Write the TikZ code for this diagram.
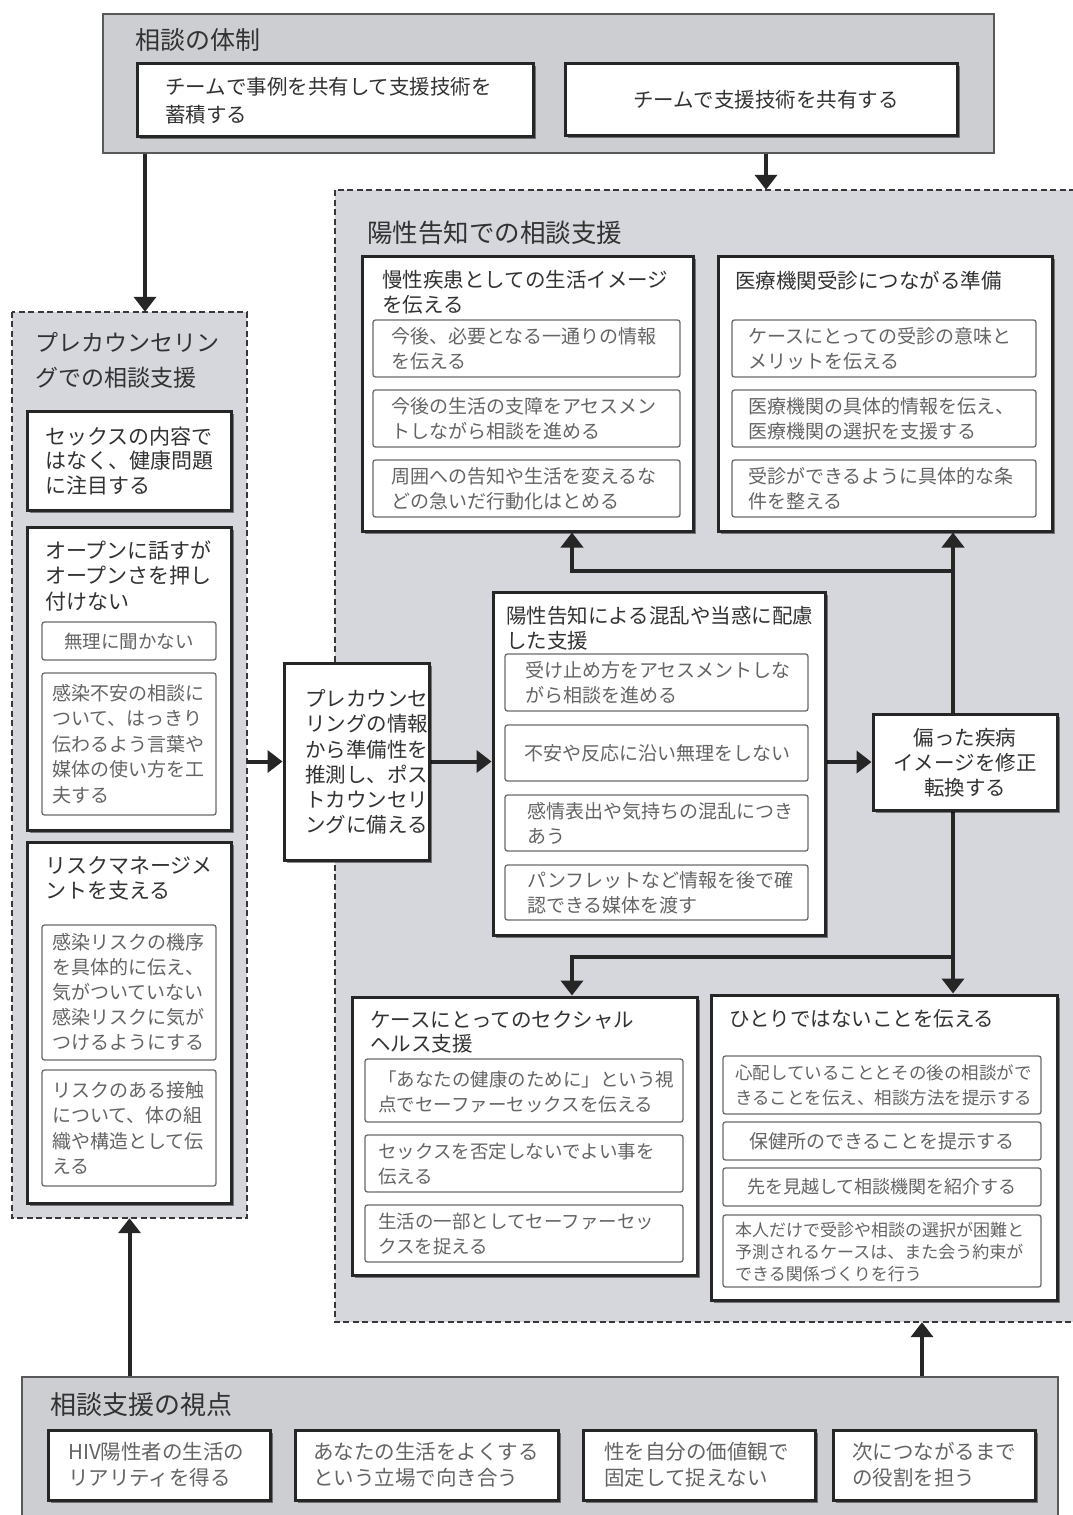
\documentclass[tikz,border=0pt]{standalone}
\usepackage{fontspec}
\setmainfont{Noto Sans CJK JP}
\usetikzlibrary{arrows.meta,shadows,fit}
\definecolor{regfill}{RGB}{214,215,220}
\definecolor{boxfill}{RGB}{204,206,210}
\definecolor{dark}{RGB}{38,38,38}
\definecolor{subtext}{RGB}{100,100,100}
\definecolor{titletext}{RGB}{50,50,50}
\newcommand\myfs[2]{\fontsize{#1}{#2}\selectfont}
\pgfdeclarelayer{back}
\pgfdeclarelayer{mid}
\pgfsetlayers{back,mid,main}
\begin{document}
\begin{tikzpicture}[x=1pt,y=-1pt,
 graybox/.style={draw=black!65,line width=1.5pt,fill=boxfill,inner sep=0pt},
 region/.style={fill=regfill,draw=none,inner sep=0pt},
 dashline/.style={draw=black!78,line width=1.6pt,dash pattern=on 6pt off 3.5pt},
 mainbox/.style={draw=dark,line width=3pt,fill=white,inner sep=0pt,
   drop shadow={shadow xshift=2.5pt,shadow yshift=-3pt,fill=black,opacity=0.45}},
 subbox/.style={draw=black!58,line width=1.3pt,fill=white,rounded corners=2.5pt,inner sep=0pt},
 ttl/.style={inner sep=0pt,anchor=west,text=titletext,align=left},
 sub/.style={inner sep=0pt,anchor=west,text=subtext,align=left},
 subc/.style={inner sep=0pt,anchor=center,text=subtext,align=center},
 arr/.style={draw=dark,line width=4pt,-{Triangle[length=15pt,width=22pt]}},
 ln/.style={draw=dark,line width=4pt}]
\useasboundingbox (0,0) rectangle (1072,1515);

% ---------- background regions ----------
\begin{pgfonlayer}{back}
\fill[white] (0,0) rectangle (1072,1515);
\node[region,fit={(335,190)(1075,1322)}] (Rreg) {};
\draw[dashline] (Rreg.north east) -- (Rreg.north west) -- (Rreg.south west) -- (Rreg.south east);
\node[region,fit={(12,312)(247,1218)}] (Lreg) {};
\draw[dashline] (Lreg.north west) rectangle (Lreg.south east);
\end{pgfonlayer}

% ---------- top gray box ----------
\node[graybox,fit={(103,14)(994,153)}] (top) {};
\node[ttl,font=\myfs{25}{30}] (topT) at (135,40) {相談の体制};
\node[mainbox,fit={(137,63)(533,136)}] (TL) {};
\node[ttl,font=\myfs{20.5}{28}] (TLt) at (165,101) {チームで事例を共有して支援技術を\\蓄積する};
\node[mainbox,fit={(565,63)(957,135)}] (TR) {};
\node[subc,text=titletext,font=\myfs{20.5}{28}] (TRt) at (766,100) {チームで支援技術を共有する};

% ---------- right region ----------
\node[ttl,font=\myfs{25.5}{30}] (RregT) at (367,233) {陽性告知での相談支援};

\node[mainbox,fit={(362,256)(693,531)}] (A) {};
\node[ttl,font=\myfs{20.5}{25}] (At) at (382,292.5) {慢性疾患としての生活イメージ\\を伝える};
\node[subbox,fit={(373,320)(680,377)}] (A1) {};
\node[sub,font=\myfs{19}{25}] (A1t) at (391,349) {今後、必要となる一通りの情報\\を伝える};
\node[subbox,fit={(373,390)(680,447)}] (A2) {};
\node[sub,font=\myfs{19}{25}] (A2t) at (391,419) {今後の生活の支障をアセスメン\\トしながら相談を進める};
\node[subbox,fit={(373,460)(680,517)}] (A3) {};
\node[sub,font=\myfs{19}{25}] (A3t) at (391,489) {周囲への告知や生活を変えるな\\どの急いだ行動化はとめる};

\node[mainbox,fit={(718,256)(1052,531)}] (B) {};
\node[ttl,font=\myfs{20.5}{25}] (Bt) at (735,281) {医療機関受診につながる準備};
\node[subbox,fit={(732,320)(1036,377)}] (B1) {};
\node[sub,font=\myfs{19}{25}] (B1t) at (748,349) {ケースにとっての受診の意味と\\メリットを伝える};
\node[subbox,fit={(732,390)(1036,447)}] (B2) {};
\node[sub,font=\myfs{19}{25}] (B2t) at (748,419) {医療機関の具体的情報を伝え、\\医療機関の選択を支援する};
\node[subbox,fit={(732,460)(1036,517)}] (B3) {};
\node[sub,font=\myfs{19}{25}] (B3t) at (748,489) {受診ができるように具体的な条\\件を整える};

% ---------- left region ----------
\node[ttl,font=\myfs{23}{35}] (LregT) at (35,360.5) {プレカウンセリン\\グでの相談支援};
\node[mainbox,fit={(27,411)(231,510)}] (L1) {};
\node[ttl,font=\myfs{21}{24.5}] (L1t) at (45,460.5) {セックスの内容で\\はなく、健康問題\\に注目する};
\node[mainbox,fit={(27,527)(231,830)}] (L2) {};
\node[ttl,font=\myfs{21}{25.5}] (L2t) at (45,575.5) {オープンに話すが\\オープンさを押し\\付けない};
\node[subbox,fit={(42,622)(216,660)}] (L2a) {};
\node[subc,font=\myfs{18.5}{25}] (L2at) at (129,641) {無理に聞かない};
\node[subbox,fit={(42,673)(216,815)}] (L2b) {};
\node[sub,font=\myfs{19}{25.5}] (L2bt) at (52,744) {感染不安の相談に\\ついて、はっきり\\伝わるよう言葉や\\媒体の使い方を工\\夫する};
\node[mainbox,fit={(27,842)(231,1203)}] (L3) {};
\node[ttl,font=\myfs{21}{25}] (L3t) at (45,878.5) {リスクマネージメ\\ントを支える};
\node[subbox,fit={(42,925)(216,1060)}] (L3a) {};
\node[sub,font=\myfs{19}{25}] (L3at) at (52,992.5) {感染リスクの機序\\を具体的に伝え、\\気がついていない\\感染リスクに気が\\つけるようにする};
\node[subbox,fit={(42,1070)(216,1186)}] (L3b) {};
\node[sub,font=\myfs{19}{25.3}] (L3bt) at (52,1128) {リスクのある接触\\について、体の組\\織や構造として伝\\える};

% ---------- middle ----------
\node[mainbox,fit={(284,663)(429,860)}] (M) {};
\node[ttl,font=\myfs{20.5}{25.2}] (Mt) at (305,762) {プレカウンセ\\リングの情報\\から準備性を\\推測し、ポス\\トカウンセリ\\ングに備える};

\node[mainbox,fit={(493,592)(825,935)}] (C) {};
\node[ttl,font=\myfs{20.5}{25}] (Ct) at (506,628.5) {陽性告知による混乱や当惑に配慮\\した支援};
\node[subbox,fit={(505,654)(808,711)}] (C1) {};
\node[sub,font=\myfs{19}{25}] (C1t) at (525,683) {受け止め方をアセスメントしな\\がら相談を進める};
\node[subbox,fit={(505,725)(808,781)}] (C2) {};
\node[subc,font=\myfs{19}{25}] (C2t) at (657,753) {不安や反応に沿い無理をしない};
\node[subbox,fit={(505,795)(808,851)}] (C3) {};
\node[sub,font=\myfs{19}{25}] (C3t) at (527,823) {感情表出や気持ちの混乱につき\\あう};
\node[subbox,fit={(505,865)(808,920)}] (C4) {};
\node[sub,font=\myfs{19}{25}] (C4t) at (527,892.5) {パンフレットなど情報を後で確\\認できる媒体を渡す};

\node[mainbox,fit={(873,714)(1057,810)}] (Rt) {};
\node[subc,text=titletext,font=\myfs{20.5}{25}] (Rtt) at (965,763) {偏った疾病\\イメージを修正\\転換する};

% ---------- bottom boxes of right region ----------
\node[mainbox,fit={(352,997)(697,1275)}] (D) {};
\node[ttl,font=\myfs{20.5}{24.5}] (Dt) at (370,1032) {ケースにとってのセクシャル\\ヘルス支援};
\node[subbox,fit={(365,1059)(683,1122)}] (D1) {};
\node[sub,font=\myfs{18.5}{25}] (D1t) at (378,1091.5) {「あなたの健康のために」という視\\点でセーファーセックスを伝える};
\node[subbox,fit={(365,1135)(683,1192)}] (D2) {};
\node[sub,font=\myfs{18.5}{25}] (D2t) at (378,1163.5) {セックスを否定しないでよい事を\\伝える};
\node[subbox,fit={(365,1205)(683,1262)}] (D3) {};
\node[sub,font=\myfs{18.5}{25}] (D3t) at (378,1233.5) {生活の一部としてセーファーセッ\\クスを捉える};

\node[mainbox,fit={(711,995)(1057,1300)}] (E) {};
\node[ttl,font=\myfs{20.5}{25}] (Et) at (729,1019) {ひとりではないことを伝える};
\node[subbox,fit={(723,1056)(1041,1114)}] (E1) {};
\node[sub,font=\myfs{17.5}{24.5}] (E1t) at (735,1085.5) {心配していることとその後の相談がで\\きることを伝え、相談方法を提示する};
\node[subbox,fit={(723,1122)(1041,1160)}] (E2) {};
\node[subc,font=\myfs{19}{24}] (E2t) at (882,1141) {保健所のできることを提示する};
\node[subbox,fit={(723,1168)(1041,1206)}] (E3) {};
\node[subc,font=\myfs{18}{24}] (E3t) at (882,1187) {先を見越して相談機関を紹介する};
\node[subbox,fit={(723,1215)(1041,1287)}] (E4) {};
\node[sub,font=\myfs{17}{22}] (E4t) at (735,1252) {本人だけで受診や相談の選択が困難と\\予測されるケースは、また会う約束が\\できる関係づくりを行う};

% ---------- bottom gray box ----------
\node[graybox,fit={(22,1377)(1058,1525)}] (bot) {};
\node[ttl,font=\myfs{26}{30}] (botT) at (50,1405) {相談支援の視点};
\node[mainbox,fit={(48,1430)(270,1500)}] (F1) {};
\node[sub,font=\myfs{20.5}{26}] (F1t) at (68,1465) {HIV陽性者の生活の\\リアリティを得る};
\node[mainbox,fit={(295,1430)(558,1500)}] (F2) {};
\node[sub,font=\myfs{20.5}{26}] (F2t) at (313,1465) {あなたの生活をよくする\\という立場で向き合う};
\node[mainbox,fit={(583,1430)(815,1500)}] (F3) {};
\node[sub,font=\myfs{20.5}{26}] (F3t) at (604,1465) {性を自分の価値観で\\固定して捉えない};
\node[mainbox,fit={(833,1430)(1035,1500)}] (F4) {};
\node[sub,font=\myfs{20.5}{26}] (F4t) at (852,1465) {次につながるまで\\の役割を担う};

% ---------- connectors ----------
\coordinate (j1) at (953,571);
\coordinate (k1) at (572,571);
\coordinate (j2) at (953,957);
\coordinate (k2) at (572,957);
\coordinate (q) at (922,1340);
\begin{pgfonlayer}{mid}
\draw[arr] ([xshift=15.5pt]Lreg.north |- top.south) -- ([xshift=15.5pt]Lreg.north);
\draw[arr] ([xshift=5pt]TR.south |- top.south) -- ([xshift=5pt]TR.south |- Rreg.north);
\draw[arr] (Lreg.east |- M.east) -- (M.east -| M.west);
\draw[arr] (M.east) -- (M.east -| C.west);
\draw[arr] (C.east |- Rt.west) -- (Rt.west);
\draw[ln] (j1) -- (j2);
\draw[arr] (j1) -- (j1 |- B.south);
\draw[arr] (j1) -- (k1) -- (k1 |- A.south);
\draw[arr] (j2) -- (j2 |- E.north);
\draw[arr] (j2) -- (k2) -- (k2 |- D.north);
\draw[arr] (Lreg.south |- bot.north) -- (Lreg.south);
\draw[arr] (q |- bot.north) -- (q |- Rreg.south);
\end{pgfonlayer}
\end{tikzpicture}
\end{document}
